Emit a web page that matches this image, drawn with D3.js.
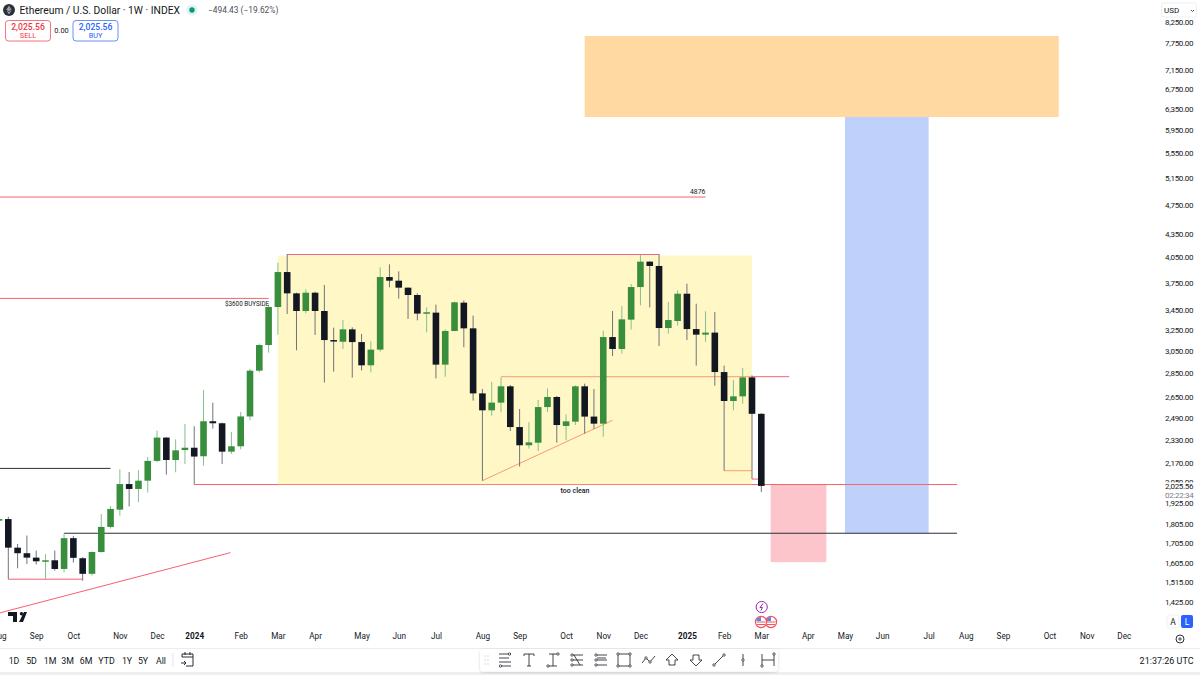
<!DOCTYPE html>
<html>
<head>
<meta charset="utf-8">
<script src="https://cdn.jsdelivr.net/npm/d3@7"></script>
<style>
  html, body { margin: 0; padding: 0; background: #fff; overflow: hidden; }
  text { font-family: Roboto, sans-serif; fill: #131722; }
</style>
</head>
<body>
<svg id="chart" width="1200" height="675"></svg>
<script>
// weekly bars, first one is the week of 7 Aug 2023
const opens  = [1823,1832,1680,1652,1630,1612,1617,1575,1729,1627,1552,1658,1789,1885,2037,2007,2058,2185,2345,2191,2258,2274,2216,2464,2449,2247,2284,2500,2872,3104,3483,3872,3630,3441,3637,3441,3151,3135,3255,3132,2919,3061,3814,3772,3693,3612,3414,3424,2925,3239,3529,3265,2681,2547,2607,2739,2421,2291,2309,2572,2652,2429,2461,2739,2499,2446,3180,3067,3352,3700,3996,3944,3268,3338,3626,3258,3203,3223,2860,2620,2657,2814,2520];
const highs  = [1836,1845,1699,1743,1665,1648,1665,1755,1741,1632,1661,1860,1906,2130,2113,2124,2211,2395,2349,2333,2444,2427,2708,2606,2454,2385,2534,2886,3118,3508,3984,4090,3637,3674,3648,3723,3272,3348,3275,3210,3139,3928,3964,3880,3696,3630,3479,3508,3255,3540,3554,3393,2716,2775,2814,2750,2557,2458,2628,2722,2660,2516,2747,2761,2716,3242,3441,3493,3734,4081,4000,4090,3536,3662,3738,3518,3438,3431,2916,2792,2895,2831,2525];
const lows   = [1820,1527,1578,1599,1596,1527,1567,1559,1606,1520,1544,1655,1780,1851,1903,1928,1985,2176,2096,2111,2165,2035,2154,2410,2165,2232,2263,2471,2858,3033,3203,3410,3055,3417,3200,2770,2863,3067,2812,2875,2857,3042,3696,3572,3359,3345,3226,2806,2820,3236,3083,2623,2058,2506,2532,2392,2148,2268,2252,2534,2309,2325,2436,2373,2407,2351,3002,3024,3252,3500,3479,3095,3213,3291,3151,2916,3135,2744,2121,2547,2599,2068,1988];
const closes = [1832,1680,1652,1630,1612,1617,1575,1729,1629,1552,1658,1789,1889,2037,2007,2058,2185,2345,2191,2256,2274,2214,2464,2449,2247,2284,2500,2872,3104,3483,3872,3630,3441,3637,3441,3151,3139,3255,3132,2919,3061,3814,3772,3693,3612,3414,3428,2925,3239,3533,3265,2681,2547,2607,2739,2421,2291,2311,2572,2652,2436,2463,2739,2499,2446,3180,3067,3355,3700,3996,3944,3268,3348,3626,3258,3203,3223,2860,2620,2657,2814,2520,2025.56];

// price axis
const priceTicks = [8250,7750,7150,6750,6350,5950,5550,5150,4750,4350,4050,3750,3450,3250,3050,2850,2650,2490,2330,2170,2050,1925,1805,1705,1605,1515,1425];

// time axis, TradingView labels the first bar of each month
const timeTickBars = [-1,3,7,12,16,20,25,29,33,38,42,46,51,55,60,64,68,73,77,81,86,90,94,99,103,107,112,116,120];
const timeTickLabels = ["Aug","Sep","Oct","Nov","Dec","2024","Feb","Mar","Apr","May","Jun","Jul","Aug","Sep","Oct","Nov","Dec","2025","Feb","Mar","Apr","May","Jun","Jul","Aug","Sep","Oct","Nov","Dec"];

// drawings: [bar from, price from, bar to, price to]
const redLines = [
  [-1,4860,75,4860],
  [-1,3575,28,3575],
  [30,4083,70,4083],
  [20,2034,102.05,2034],
  [53,2820,84,2820],
  [0,1527,8,1527],
  [51,2058,65,2471],
  [77,2121,80,2121],
  [80,2068,81,2068],
  [-0.9,1379,23.9,1655]
];
const blackLines = [
  [-1,2136,11,2136],
  [6,1755,102.05,1755]
];
const rangeBox = [29,4070,80,2034];
const targetBox = [62,7916,113,6193];
const longBox = [90,6193,99,1755];
const stopBox = [82,2034,88,1608];

const lastPrice = 2025.56;
const rangeButtons = ["1D","5D","1M","3M","6M","YTD","1Y","5Y","All"];
const rangeButtonX = [14,31.5,50,67.5,86,106.5,127,143,161];
const toolIconX = [505,529,553,577,601,624,649,672,696,719,743,768];

const svg = d3.select("#chart");
const week = b => new Date(Date.UTC(2023,7,14) + b*7*864e5);

const x = d3.scaleUtc().domain([week(0),week(81)]).range([8.3,761.3]);
const y = d3.scaleLog().domain([7750,1425]).range([43,602]);
const barX = b => x(week(b));

const plot = svg.append("g");
plot.append("defs").append("clipPath").attr("id","plotClip")
  .append("rect").attr("width",1160).attr("height",632);
const g = plot.append("g").attr("clip-path","url(#plotClip)");

function box(b,fill,opacity) {
  g.append("rect")
    .attr("x",barX(b[0])).attr("y",y(b[1]))
    .attr("width",barX(b[2])-barX(b[0])).attr("height",y(b[3])-y(b[1]))
    .attr("fill",fill).attr("opacity",opacity);
}

box(targetBox,"#ffd9a1",1);
box(longBox,"#bfd1fb",1);
box(stopBox,"#fcc5cc",1);

function lines(data,color,w) {
  g.selectAll(null).data(data).enter().append("line")
    .attr("x1",d => barX(d[0])).attr("y1",d => y(d[1]))
    .attr("x2",d => barX(d[2])).attr("y2",d => y(d[3]))
    .attr("stroke",color).attr("stroke-width",w);
}
lines(redLines,"#f7606e",1);
lines(blackLines,"#2a2e39",1);

// yellow sits on top of the drawings, that is why the red goes orange inside it
box(rangeBox,"#ffeb78",0.42);

// candles
const bars = d3.range(opens.length);
const barColor = i => closes[i] >= opens[i] ? "#388e3c" : "#131722";
const wickColor = i => closes[i] >= opens[i] ? "#86bf8d" : "#70737a";

g.selectAll(".wick").data(bars).enter().append("line")
  .attr("class","wick")
  .attr("x1",i => barX(i-1)).attr("x2",i => barX(i-1))
  .attr("y1",i => y(highs[i])).attr("y2",i => y(lows[i]))
  .attr("stroke",wickColor).attr("stroke-width",1);

g.selectAll(".body").data(bars).enter().append("rect")
  .attr("class","body")
  .attr("x",i => barX(i-1)-3.3).attr("width",6.6)
  .attr("y",i => y(Math.max(opens[i],closes[i])))
  .attr("height",i => Math.max(1.5,Math.abs(y(opens[i])-y(closes[i]))))
  .attr("fill",barColor);

// notes
function note(t,xx,yy,size,anchor) {
  return svg.append("text").attr("x",xx).attr("y",yy).attr("font-size",size)
    .attr("text-anchor",anchor||"start").text(t);
}
note("4876",690,193.5,6.8);
note("$3600 BUYSIDE",225,305.5,6.3);
note("too clean",575,492.5,7,"middle").attr("font-weight",500);

// price axis
const yAxis = d3.axisRight(y).tickValues(priceTicks).tickSize(0).tickPadding(0)
  .tickFormat(d3.format(",.2f"));
const yg = svg.append("g").attr("transform","translate(1165,0)").call(yAxis);
yg.select(".domain").remove();
yg.selectAll("text").attr("font-size",8).style("font-family","Roboto")
  .style("letter-spacing","-0.3px").attr("fill","#131722");

// white patch for the last price label
svg.append("rect").attr("x",1162).attr("y",482.5).attr("width",36).attr("height",17.5).attr("fill","#fff");
note(d3.format(",.2f")(lastPrice),1165,489.2,8).style("letter-spacing","-0.3px");
note("02:22:34",1165,497.8,8).style("fill","#787b86").style("letter-spacing","-0.3px");

// USD button
svg.append("rect").attr("x",1161.5).attr("y",3).attr("width",35).attr("height",14).attr("rx",2)
  .attr("fill","#fff").attr("stroke","#eceef2");
note("USD",1164,13.2,8);
svg.append("path").attr("d","M1191 10l1.5 1.5 1.5-1.5").attr("fill","none").attr("stroke","#555");

// time axis
const xAxis = d3.axisBottom(x).tickValues(timeTickBars.map(week)).tickSize(0).tickPadding(0)
  .tickFormat((d,i) => timeTickLabels[i]);
const xg = svg.append("g").attr("transform","translate(0,633.2)").call(xAxis);
xg.select(".domain").remove();
xg.selectAll("text").attr("font-size",8.2).style("font-family","Roboto").attr("fill","#131722")
  .attr("font-weight",(d,i) => /^20/.test(timeTickLabels[i]) ? 700 : 400);

// bottom strip
svg.append("line").attr("x1",0).attr("x2",1200).attr("y1",648.5).attr("y2",648.5).attr("stroke","#ececf0");
svg.append("rect").attr("x",0).attr("y",672).attr("width",1200).attr("height",3).attr("fill","#eeeff2");

svg.selectAll(".range").data(rangeButtons).enter().append("text")
  .attr("class","range").attr("x",(d,i) => rangeButtonX[i]).attr("y",663.7)
  .attr("text-anchor","middle").attr("font-size",8.8).text(d => d);
svg.append("line").attr("x1",173).attr("x2",173).attr("y1",653).attr("y2",667).attr("stroke","#e0e3eb");
svg.append("path").attr("d","M182 657v-3h11v12h-7M182 657h11M185 652v3M190 652v3M181 663h5M184 661l2 2-2 2")
  .attr("fill","none").attr("stroke","#131722").attr("stroke-width",0.9);
note("21:37:26 UTC",1193.5,663.7,9,"end");

// drawing toolbar
svg.append("defs").append("filter").attr("id","soft").append("feDropShadow")
  .attr("dx",0).attr("dy",1).attr("stdDeviation",1.5).attr("flood-color","#000").attr("flood-opacity",0.16);
svg.append("rect").attr("x",480).attr("y",649).attr("width",298).attr("height",22.5).attr("rx",4)
  .attr("fill","#fff").attr("filter","url(#soft)");
svg.append("path").attr("d","M484.5 656h1M487.5 656h1M484.5 660h1M487.5 660h1M484.5 664h1M487.5 664h1")
  .attr("stroke","#b2b5be").attr("stroke-width",1);
const toolIcons = [
  "M-6-6H6M-6-2H4M-6 2H6M-4 6H6",
  "M-5-4v-2H5v2M0-6V6M-2 6H2",
  "M-4-6H4M0-6V6M-4 6H4",
  "M-4-5H6M-4 0H6M-4 5H6M-3-5L3 5",
  "M-4-5H6M-4 0H6M-4 5H6M-4-2H5",
  "M-6-6H6V6H-6Z",
  "M-7 3L-3-2L1 2L6-4",
  "M0-6L6 0H3V5H-3V0H-6Z",
  "M0 6L6 0H3V-5H-3V0H-6Z",
  "M-5 5L5-5",
  "M0-6V6",
  "M-6-6V6M6-6V6M-6 0H6"
];
const toolAnchors = [
  [[4.5,-6],[-4.5,6]],[], [[5,-6],[-5,6]],[[-5,-5],[-5,0],[-5,5]],[[-5,-5],[-5,0],[-5,5]],
  [[-6,-6],[6,-6],[-6,6],[6,6]],[[-3,-2],[1,2]],[],[],[[-5,5],[5,-5]],[[0,0]],[[-6,6],[6,-6]]
];
const tools = svg.selectAll(".tool").data(toolIcons).enter().append("g")
  .attr("class","tool")
  .attr("transform",(d,i) => `translate(${toolIconX[i]},660)`);
tools.append("path").attr("d",d => d).attr("fill","none").attr("stroke","#131722").attr("stroke-width",0.8);
tools.selectAll("circle").data((d,i) => toolAnchors[i]).enter().append("circle")
  .attr("cx",d => d[0]).attr("cy",d => d[1]).attr("r",1.2)
  .attr("fill","#fff").attr("stroke","#131722").attr("stroke-width",0.7);

// logo, events, scale buttons
svg.append("path").attr("d","M8 612h9v10h-4v-6h-5zM21.5 612a1.7 1.7 0 1 0 .01 0M24 612h3l-4 10h-4z")
  .attr("fill","#131722");

svg.append("circle").attr("cx",761.7).attr("cy",607).attr("r",5.6).attr("fill","#fff").attr("stroke","#9c27b0").attr("stroke-width",1);
svg.append("path").attr("d","M763 603.5l-3 4h2.4l-1.4 3").attr("fill","none").attr("stroke","#9c27b0");
[771,761].forEach(cx => {
  svg.append("circle").attr("cx",cx).attr("cy",622).attr("r",5.6).attr("fill","#fff").attr("stroke","#f7525f").attr("stroke-width",1.2);
  svg.append("path").attr("d",`M${cx-4.5} 622h9M${cx-4} 624.5h8`).attr("stroke","#f7525f").attr("stroke-width",1);
  svg.append("path").attr("d",`M${cx-4.5} 621v-1a4.5 4.5 0 0 1 4.5-3v4z`).attr("fill","#4f8fdc");
});

svg.append("rect").attr("x",1167).attr("y",615).attr("width",12).attr("height",13).attr("rx",2).attr("fill","#fff").attr("stroke","#f0f1f4");
note("A",1173,624.7,8.5,"middle");
svg.append("rect").attr("x",1181).attr("y",615).attr("width",12).attr("height",13).attr("rx",2).attr("fill","#2962ff");
note("L",1187,624.7,8.5,"middle").style("fill","#fff");
svg.append("circle").attr("cx",1180).attr("cy",639).attr("r",4).attr("fill","none").attr("stroke","#131722").attr("stroke-width",0.9);
svg.append("circle").attr("cx",1180).attr("cy",639).attr("r",1.2).attr("fill","none").attr("stroke","#131722").attr("stroke-width",0.8);

// legend
svg.append("circle").attr("cx",9).attr("cy",10).attr("r",6).attr("fill","#2b2f3a");
svg.append("path").attr("d","M9 5.5l-2.7 4.3 2.7 1.5z").attr("fill","#c99d66");
svg.append("path").attr("d","M9 5.5l2.7 4.3-2.7 1.5z").attr("fill","#8a92b2");
svg.append("path").attr("d","M6.4 10.5l2.6 3.7 2.6-3.7-2.6 1.5z").attr("fill","#88aadd");
note("Ethereum / U.S. Dollar · 1W · INDEX",19.5,13.8,10.3);
svg.append("circle").attr("cx",192).attr("cy",10).attr("r",5.5).attr("fill","#e0f3ee");
svg.append("circle").attr("cx",192).attr("cy",10).attr("r",2.7).attr("fill","#089981");
note("−494.43 (−19.62%)",208,13,8.4).style("fill","#4a4e58");

function tradeBtn(xx,col,label) {
  svg.append("rect").attr("x",xx).attr("y",20.5).attr("width",45).attr("height",20.5).attr("rx",3)
    .attr("fill","#fff").attr("stroke",col).attr("stroke-opacity",0.7);
  note(d3.format(",.2f")(lastPrice),xx+22.5,29.7,8.6,"middle").style("fill",col).attr("font-weight",500);
  note(label,xx+22.5,38.2,7.3,"middle").style("fill",col);
}
tradeBtn(5.5,"#f23645","SELL");
tradeBtn(73,"#2962ff","BUY");
note("0.00",61.5,33,7.4,"middle");
</script>
</body>
</html>
